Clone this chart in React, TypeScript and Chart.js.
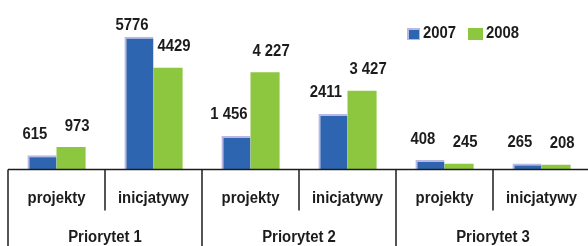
import React, { useEffect, useRef } from "react";
import { Chart, registerables } from "chart.js";

Chart.register(...registerables);

const categories = ["projekty", "inicjatywy", "projekty", "inicjatywy", "projekty", "inicjatywy"];
const groups = ["Priorytet 1", "Priorytet 2", "Priorytet 3"];
const seriesNames = ["2007", "2008"];
const values2007 = [615, 5776, 1456, 2411, 408, 265];
const values2008 = [973, 4429, 4227, 3427, 245, 208];
const labels2007 = ["615", "5776", "1 456", "2411", "408", "265"];
const labels2008 = ["973", "4429", "4 227", "3 427", "245", "208"];

const BLUE = "#2E65B0";
const LAVENDER = "#B9B7E3";
const GREEN = "#8DC63F";
const TEXT = "#1c1c1c";
const FONT = "bold 16px 'Liberation Sans', Arial, sans-serif";
const SQUEEZE = 0.93;

function drawText(ctx: CanvasRenderingContext2D, t: string, x: number, y: number) {
  ctx.save();
  ctx.translate(x, y);
  ctx.scale(SQUEEZE, 1);
  ctx.fillText(t, 0, 0);
  ctx.restore();
}

const overlayPlugin = {
  id: "overlay",
  afterDraw(chart: any) {
    const ctx = chart.ctx;
    const area = chart.chartArea;
    const xs = chart.scales.x;
    const n = categories.length;
    const catW = (area.right - area.left) / n;
    ctx.save();
    // axis line
    ctx.strokeStyle = TEXT;
    ctx.lineWidth = 1.5;
    ctx.beginPath();
    ctx.moveTo(area.left, area.bottom);
    ctx.lineTo(area.right, area.bottom);
    ctx.stroke();
    // separators
    for (let i = 0; i <= n; i++) {
      const x = Math.round(xs.getPixelForValue(0) - catW / 2 + i * catW);
      const long = i % 2 === 0;
      ctx.beginPath();
      ctx.moveTo(x, area.bottom);
      ctx.lineTo(x, long ? chart.height : area.bottom + 41);
      ctx.stroke();
    }
    ctx.fillStyle = TEXT;
    ctx.font = FONT;
    ctx.textAlign = "center";
    ctx.textBaseline = "middle";
    categories.forEach((c, i) => {
      drawText(ctx, c, xs.getPixelForValue(i), area.bottom + 29);
    });
    groups.forEach((g, gi) => {
      const x = (xs.getPixelForValue(gi * 2) + xs.getPixelForValue(gi * 2 + 1)) / 2;
      drawText(ctx, g, x, area.bottom + 68);
    });
    // value labels
    const allLabels = [labels2007, labels2008];
    const dxs = [-7, 6];
    chart.data.datasets.forEach((ds: any, di: number) => {
      const meta = chart.getDatasetMeta(di);
      meta.data.forEach((bar: any, i: number) => {
        const y = Math.max(bar.y - 21, area.top + 17);
        drawText(ctx, allLabels[di][i], bar.x + dxs[di], y);
      });
    });
    // legend
    ctx.textAlign = "left";
    ctx.fillStyle = LAVENDER;
    ctx.fillRect(407, 28, 13, 12);
    ctx.fillStyle = BLUE;
    ctx.fillRect(409, 30, 10, 9);
    ctx.fillStyle = TEXT;
    drawText(ctx, seriesNames[0], 423, 34);
    ctx.fillStyle = GREEN;
    ctx.fillRect(468, 28, 15, 12);
    ctx.fillStyle = TEXT;
    drawText(ctx, seriesNames[1], 486, 34);
    ctx.restore();
  },
};

export default function App() {
  const ref = useRef<HTMLCanvasElement | null>(null);
  useEffect(() => {
    if (!ref.current) return;
    const chart = new Chart(ref.current, {
      type: "bar",
      data: {
        labels: categories,
        datasets: [
          {
            label: seriesNames[0],
            data: values2007,
            backgroundColor: BLUE,
            borderColor: LAVENDER,
            borderWidth: { left: 2, top: 2, right: 0, bottom: 0 },
            borderSkipped: "bottom",
          },
          {
            label: seriesNames[1],
            data: values2008,
            backgroundColor: GREEN,
            borderWidth: 0,
          },
        ],
      },
      options: {
        responsive: false,
        animation: false,
        events: [],
        layout: { padding: { left: 8, right: 10, top: 8.5, bottom: 76.5 } },
        datasets: { bar: { categoryPercentage: 0.6, barPercentage: 1 } },
        scales: {
          x: { display: false },
          y: { display: false, min: 0, max: 7000 },
        },
        plugins: { legend: { display: false }, tooltip: { enabled: false } },
      },
      plugins: [overlayPlugin],
    } as any);
    return () => chart.destroy();
  }, []);
  return (
    <div
      style={{
        position: "fixed",
        left: 0,
        top: 0,
        width: 588,
        height: 246,
        overflow: "hidden",
        background: "#fff",
      }}
    >
      <canvas ref={ref} width={600} height={246} style={{ width: 600, height: 246, display: "block" }} />
    </div>
  );
}
